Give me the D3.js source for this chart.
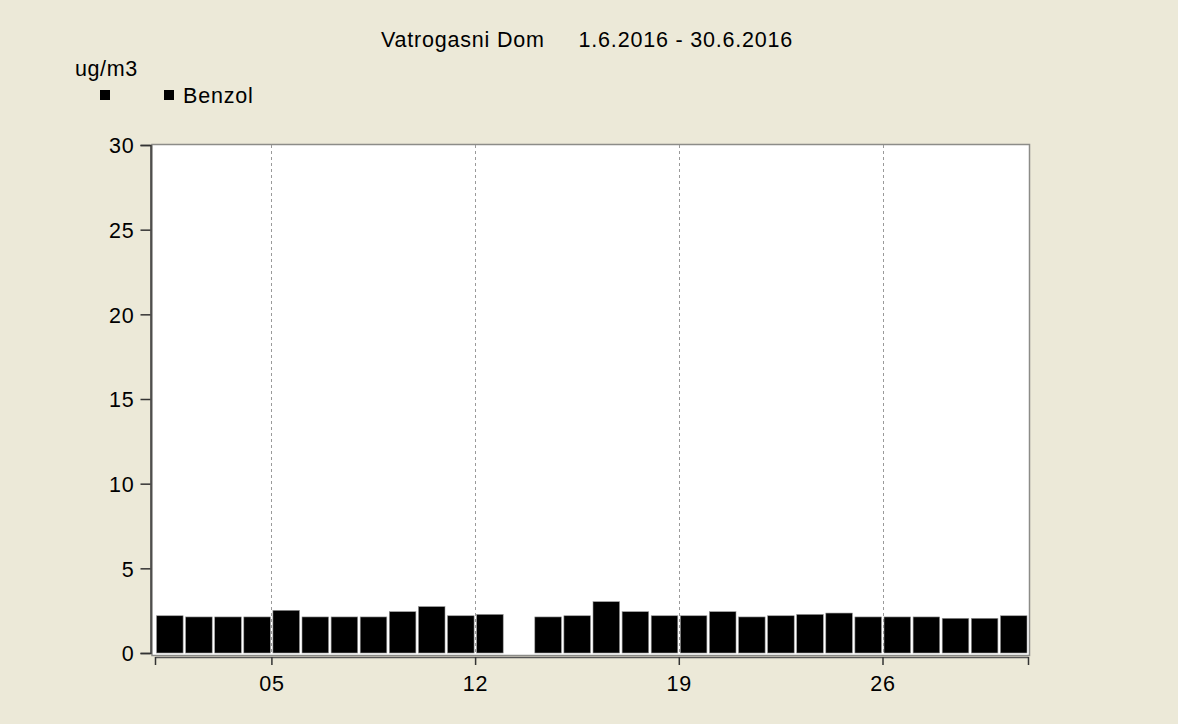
<!DOCTYPE html>
<html>
<head>
<meta charset="utf-8">
<script src="https://cdn.jsdelivr.net/npm/d3@7"></script>
<style>
  html, body { margin: 0; padding: 0; background: #ece9d8; }
  text { font-family: 'Liberation Sans', Arial, sans-serif; fill: #000; }
</style>
</head>
<body>
<div id="chart"></div>
<script>
// data
const days = d3.range(1, 31)
const benzol = [
  2.2, 2.13, 2.13, 2.13, 2.52, 2.13, 2.13, 2.13, 2.44, 2.74,
  2.2, 2.28, null, 2.13, 2.2, 3.03, 2.44, 2.2, 2.2, 2.44,
  2.13, 2.2, 2.28, 2.36, 2.13, 2.13, 2.13, 2.05, 2.05, 2.2
]
const yTicks = [0, 5, 10, 15, 20, 25, 30]
const labelDays = [5, 12, 19, 26]
const title = 'Vatrogasni Dom     1.6.2016 - 30.6.2016'
const unit = 'ug/m3'
const seriesName = 'Benzol'

const width = 1178
const height = 724

const svg = d3
  .select('#chart')
  .append('svg')
  .attr('width', width)
  .attr('height', height)

const dayDate = d => new Date(2016, 5, d)

const xScale = d3
  .scaleTime()
  .domain([dayDate(1), dayDate(31)])
  .range([155, 1028])

const yScale = d3
  .scaleLinear()
  .domain([0, 30])
  .range([653, 145])

// plot frame
svg
  .append('rect')
  .attr('x', 152)
  .attr('y', 144.5)
  .attr('width', 877.5)
  .attr('height', 511)
  .attr('fill', 'white')
  .attr('stroke', '#8c8c88')
  .attr('stroke-width', 1.5)

// dashed grid at labelled days
svg
  .selectAll('.grid')
  .data(labelDays)
  .enter()
  .append('line')
  .attr('class', 'grid')
  .attr('x1', d => Math.round(xScale(dayDate(d))) + 0.5)
  .attr('x2', d => Math.round(xScale(dayDate(d))) + 0.5)
  .attr('y1', yScale(30))
  .attr('y2', yScale(0))
  .attr('stroke', '#9a9a9a')
  .attr('stroke-dasharray', '3,3')

// bars
svg
  .selectAll('.bar')
  .data(days.filter((d, i) => benzol[i] !== null))
  .enter()
  .append('rect')
  .attr('class', 'bar')
  .attr('x', d => xScale(dayDate(d)) + 1.5)
  .attr('width', d => xScale(dayDate(d + 1)) - xScale(dayDate(d)) - 2.5)
  .attr('y', d => yScale(benzol[d - 1]))
  .attr('height', d => yScale(0) - yScale(benzol[d - 1]))
  .attr('fill', '#000')
  .attr('stroke', '#9a9a9a')
  .attr('stroke-width', 0.6)

// y axis
const yAxis = svg
  .append('g')
  .attr('transform', 'translate(150.5,0)')
  .call(d3.axisLeft(yScale).tickValues(yTicks).tickSize(10).tickPadding(6).tickFormat(d3.format('d')))

yAxis.select('.domain').attr('stroke', '#333').attr('stroke-width', 1.5)
yAxis.selectAll('.tick line').attr('stroke', '#333').attr('stroke-width', 1.5)
yAxis
  .selectAll('.tick text')
  .attr('font-size', 21.5)
  .attr('letter-spacing', 0.8)
  .attr('fill', '#000')
  .attr('dy', '0.36em')

// x axis
const xTickDates = [dayDate(1)].concat(labelDays.map(dayDate), [dayDate(31)])
const xAxis = svg
  .append('g')
  .attr('transform', 'translate(0,657)')
  .call(
    d3.axisBottom(xScale)
      .tickValues(xTickDates)
      .tickSize(8)
      .tickSizeOuter(0)
      .tickPadding(11)
      .tickFormat(d => labelDays.indexOf(d.getDate()) !== -1 && d.getMonth() === 5 ? d3.timeFormat('%d')(d) : '')
  )

xAxis.select('.domain').attr('stroke', '#555').attr('stroke-width', 1.5)
xAxis.selectAll('.tick line').attr('stroke', '#333').attr('stroke-width', 1.5)
xAxis
  .selectAll('.tick text')
  .attr('font-size', 21.5)
  .attr('letter-spacing', 0.8)
  .attr('fill', '#000')

// title
svg
  .append('text')
  .attr('x', 587)
  .attr('y', 47)
  .attr('text-anchor', 'middle')
  .attr('font-size', 21.5)
  .attr('letter-spacing', 0.8)
  .style('white-space', 'pre')
  .text(title)

// unit
svg
  .append('text')
  .attr('x', 75)
  .attr('y', 76)
  .attr('font-size', 21.5)
  .attr('letter-spacing', 0.6)
  .text(unit)

// legend
svg
  .selectAll('.legend-box')
  .data([100, 164])
  .enter()
  .append('rect')
  .attr('class', 'legend-box')
  .attr('x', d => d)
  .attr('y', 90)
  .attr('width', 10)
  .attr('height', 10)
  .attr('fill', '#000')

svg
  .append('text')
  .attr('x', 183)
  .attr('y', 103)
  .attr('font-size', 21.5)
  .attr('letter-spacing', 0.8)
  .text(seriesName)
</script>
</body>
</html>
